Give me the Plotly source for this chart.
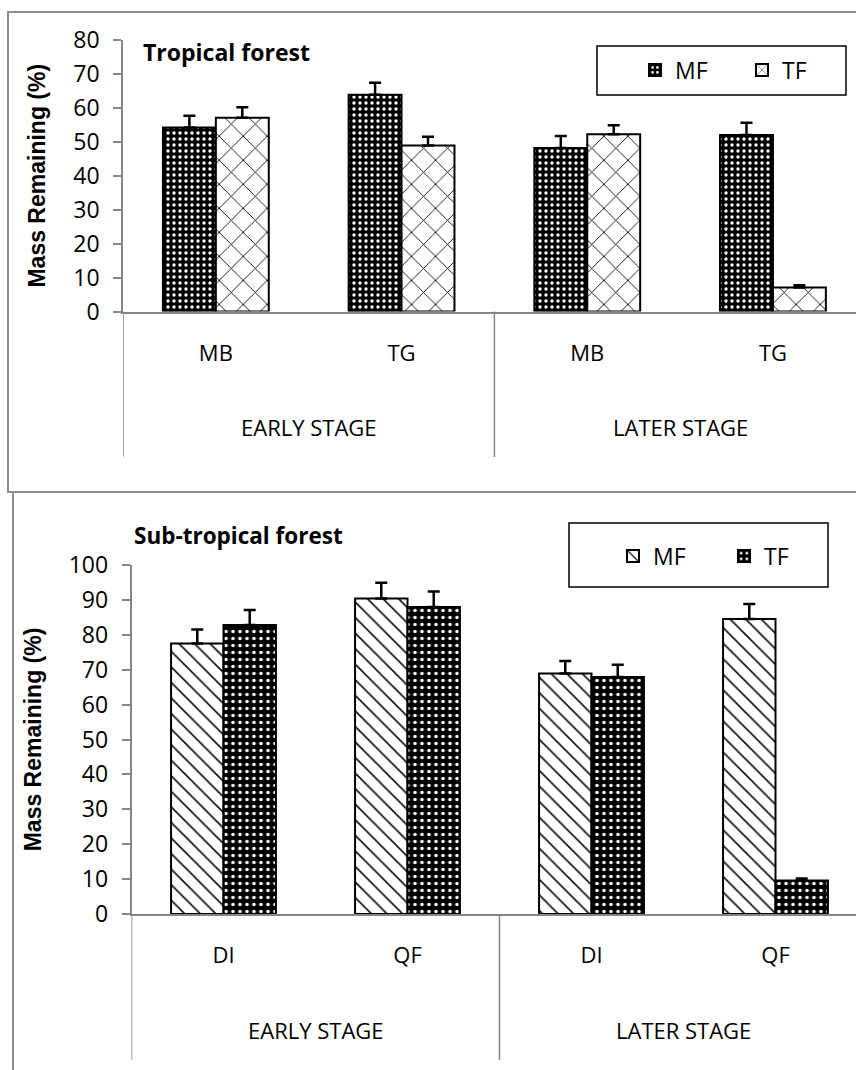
import plotly.graph_objects as go

W, H = 856, 1070

# ---------------- data ----------------
stages = ["EARLY STAGE", "EARLY STAGE", "LATER STAGE", "LATER STAGE"]

trop_species = ["MB", "TG", "MB", "TG"]
trop_mf = [54.2, 63.9, 48.2, 52.0]
trop_mf_err = [3.5, 3.5, 3.5, 3.6]
trop_tf = [57.1, 48.9, 52.2, 7.1]
trop_tf_err = [3.1, 2.6, 2.7, 0.6]

sub_species = ["DI", "QF", "DI", "QF"]
sub_mf = [77.5, 90.4, 68.9, 84.5]
sub_mf_err = [4.0, 4.5, 3.6, 4.3]
sub_tf = [82.8, 88.0, 67.9, 9.6]
sub_tf_err = [4.3, 4.4, 3.5, 0.6]

y_title = "Mass Remaining (%)"
titles = ["Tropical forest", "Sub-tropical forest"]

# ---------------- helpers (layout only) ----------------
def px_x(x):
    return x / W

def px_y(y):
    return 1 - y / H

FONT = "Open Sans"
idx = list(range(len(stages)))

fig = go.Figure()

def add_bar(x, y, err, name, xa, ya, legend, shape, fg, bg, size, solidity):
    fig.add_trace(go.Bar(
        x=x, y=y, name=name, xaxis=xa, yaxis=ya, legend=legend,
        marker=dict(
            color=bg,
            line=dict(color="black", width=2),
            pattern=dict(shape=shape, fgcolor=fg, bgcolor=bg, size=size,
                         solidity=solidity, fillmode="replace"),
        ),
        error_y=dict(type="data", array=err, arrayminus=[0] * len(err),
                     symmetric=False, color="black", thickness=2.5, width=6),
    ))

# top chart
add_bar(idx, trop_mf, trop_mf_err, "MF", "x", "y", "legend", ".", "white", "black", 6, 0.25)
add_bar(idx, trop_tf, trop_tf_err, "TF", "x", "y", "legend", "x", "black", "white", 17, 0.1)
# bottom chart
add_bar(idx, sub_mf, sub_mf_err, "MF", "x2", "y2", "legend2", "\\", "#111111", "white", 11, 0.15)
add_bar(idx, sub_tf, sub_tf_err, "TF", "x2", "y2", "legend2", ".", "white", "black", 7, 0.2)

axis_grey = "#868686"
tickfont = dict(family=FONT, size=23, color="black")
catfont = dict(family=FONT, size=22, color="black")

def xaxis_cfg(domain, rng, ticktext):
    return dict(domain=domain, range=rng, tickmode="array", tickvals=idx,
                ticktext=ticktext, showline=True, linecolor=axis_grey, linewidth=1.5,
                ticks="", tickfont=catfont, ticklabelstandoff=21, zeroline=False,
                showgrid=False, fixedrange=True, automargin=False)

def yaxis_cfg(domain, rng, dtick, anchor):
    return dict(domain=domain, range=rng, dtick=dtick, anchor=anchor,
                showline=True, linecolor=axis_grey, linewidth=1.5,
                ticks="outside", ticklen=8, tickcolor=axis_grey, tickwidth=1.5,
                ticklabelstandoff=9,
                tickfont=tickfont, showgrid=False, zeroline=False, automargin=False,
                title=dict(text=y_title, standoff=21,
                           font=dict(family="Liberation Sans", size=23, color="black", weight="bold")))

top_y0, top_y1 = 311.5, 40
bot_y0, bot_y1 = 914, 565

fig.update_layout(
    width=W, height=H, margin=dict(l=0, r=0, t=0, b=0, autoexpand=False),
    paper_bgcolor="white", plot_bgcolor="white",
    barmode="group", bargap=0.43, bargroupgap=0,
    font=dict(family=FONT, color="black"),
    xaxis=xaxis_cfg([px_x(123), 1.0], [-0.5, -0.5 + (856 - 123) / 185.7], trop_species) | dict(anchor="y"),
    yaxis=yaxis_cfg([px_y(top_y0), px_y(top_y1)], [0, 80], 10, "x"),
    xaxis2=xaxis_cfg([px_x(131.5), 1.0], [-0.5, -0.5 + (856 - 131.5) / 184], sub_species) | dict(anchor="y2"),
    yaxis2=yaxis_cfg([px_y(bot_y0), px_y(bot_y1)], [0, 100], 10, "x2"),
    legend=dict(orientation="h", x=px_x(635), y=px_y(70), xanchor="left", yanchor="middle",
                bgcolor="rgba(0,0,0,0)", borderwidth=0, font=dict(family=FONT, size=23),
                entrywidth=62, entrywidthmode="pixels", traceorder="normal"),
    legend2=dict(orientation="h", x=px_x(613), y=px_y(556), xanchor="left", yanchor="middle",
                 bgcolor="rgba(0,0,0,0)", borderwidth=0, font=dict(family=FONT, size=23),
                 entrywidth=66, entrywidthmode="pixels", traceorder="normal"),
    showlegend=True,
)

shapes = []
# panel frames
frame = dict(color="#8c8c8c", width=2)
shapes.append(dict(type="rect", xref="paper", yref="paper", x0=px_x(8), x1=1.05,
                   y0=px_y(492), y1=px_y(12), line=frame, layer="below"))
shapes.append(dict(type="rect", xref="paper", yref="paper", x0=px_x(13), x1=1.05,
                   y0=-0.05, y1=px_y(492), line=frame, layer="below"))
# legend boxes
shapes.append(dict(type="rect", xref="paper", yref="paper", x0=px_x(597), x1=px_x(846),
                   y0=px_y(95), y1=px_y(46), line=dict(color="black", width=1.5)))
shapes.append(dict(type="rect", xref="paper", yref="paper", x0=px_x(569), x1=px_x(828),
                   y0=px_y(587), y1=px_y(523), line=dict(color="black", width=1.5)))

# group dividers of the category axis
def group_bounds():
    b = [-0.5]
    for i in range(1, len(stages)):
        if stages[i] != stages[i - 1]:
            b.append(i - 0.5)
    b.append(len(stages) - 0.5)
    return b

def group_centers():
    out = []
    for s in dict.fromkeys(stages):
        pos = [i for i, v in enumerate(stages) if v == s]
        out.append((s, sum(pos) / len(pos)))
    return out

for xref, ax_y, bottom in (("x", top_y0, 457), ("x2", bot_y0, 1060)):
    for b in group_bounds():
        shapes.append(dict(type="line", xref=xref, yref="paper", x0=b, x1=b,
                           y0=px_y(bottom), y1=px_y(ax_y), line=dict(color=axis_grey, width=1.5)))

annotations = []
for xref, ylab in (("x", 427), ("x2", 1030)):
    for s, c in group_centers():
        annotations.append(dict(text=s, xref=xref, yref="paper", x=c, y=px_y(ylab),
                                showarrow=False, xanchor="center", yanchor="middle",
                                font=catfont))

annotations.append(dict(text="<b>" + titles[0] + "</b>", xref="paper", yref="paper",
                        x=px_x(141), y=px_y(52), xanchor="left", yanchor="middle",
                        showarrow=False, font=dict(family=FONT, size=23, color="black")))
annotations.append(dict(text="<b>" + titles[1] + "</b>", xref="paper", yref="paper",
                        x=px_x(238), y=px_y(535), xanchor="center", yanchor="middle",
                        showarrow=False, font=dict(family=FONT, size=22.5, color="black")))

fig.update_layout(shapes=shapes, annotations=annotations)

fig.write_html("out.html")
